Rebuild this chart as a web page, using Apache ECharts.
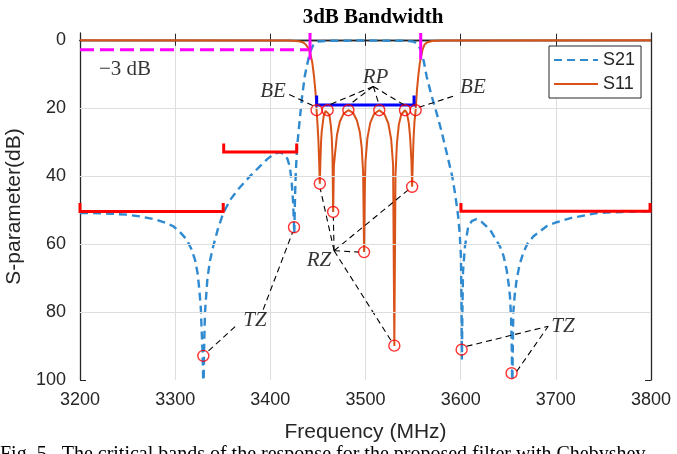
<!DOCTYPE html>
<html>
<head>
<meta charset="utf-8">
<script src="https://cdn.jsdelivr.net/npm/echarts@6/dist/echarts.min.js"></script>
<style>
    html, body { margin: 0; padding: 0; background: #fff; }
    #chart { width: 677px; height: 454px; }
</style>
</head>
<body>
<div id="chart"></div>
<script>
// measured S21 / S11 curves, [MHz, dB] (y axis is attenuation, drawn inverted)
var s21 = [
    [3200, 50.9], [3225, 51.0], [3249, 51.4], [3265, 52.0], [3280.6, 52.9], [3290, 53.8], [3298, 54.8],
    [3305, 56.5], [3312, 58.7], [3317, 61.5], [3320.8, 64.6], [3323.5, 68.5], [3325.4, 73.4], [3327, 79],
    [3327.8, 85.2], [3328.8, 92], [3329.8, 104], [3330.3, 92], [3331.3, 80.3], [3333.8, 70.5], [3336.5, 65],
    [3340, 60.7], [3345, 55.5], [3350.6, 50.9], [3358, 47], [3366, 44], [3378.6, 40.1], [3389, 37.2],
    [3397, 35], [3405, 33.4], [3410, 33.1], [3414, 33.5], [3418, 35], [3420.6, 37.5], [3422.5, 42],
    [3424, 48], [3425.2, 57], [3425.8, 48], [3426.6, 40], [3428, 32], [3430, 26], [3433, 17.6], [3436, 11],
    [3437.6, 8.7], [3439.5, 6.3], [3441, 4.5], [3443, 2.8], [3445, 1.6], [3447, 0.9], [3450, 0.5],
    [3460, 0.3], [3500, 0.2], [3540, 0.3], [3550, 0.5], [3553, 0.9], [3555.5, 1.6], [3558, 3], [3561, 6],
    [3564.2, 10.7], [3569, 16], [3574.7, 21.5], [3580, 27], [3587, 35.2], [3591, 40], [3594, 45],
    [3596, 49], [3597.4, 52], [3599, 57], [3600.3, 64], [3601, 80], [3601.3, 94], [3601.8, 80],
    [3602.5, 68], [3604.5, 60.7], [3608, 54.8], [3612, 53.2], [3616.7, 52.7], [3622, 53.5], [3630.8, 55.8],
    [3641.3, 60.7], [3645, 63.5], [3648.3, 67.6], [3650.5, 72], [3651.8, 75.4], [3653, 82], [3653.8, 92],
    [3654.2, 104], [3654.8, 90], [3655.3, 80.3], [3656.8, 75], [3658.8, 70.5], [3662, 66], [3665.8, 62.6],
    [3670, 60], [3676.3, 57.8], [3690.3, 54.8], [3700, 53.7], [3715.5, 52.4], [3743.6, 50.9], [3770, 50.6],
    [3800, 50.4]
];
var s11 = [
    [3200, 0.1], [3420, 0.2], [3430, 0.4], [3434, 0.7], [3437, 1.3], [3440, 2.5], [3442, 4], [3444, 6.5],
    [3446, 11], [3447.5, 15.5], [3448.6, 20.7], [3449.5, 24.5], [3450.5, 29.5], [3451.3, 36], [3452, 42.3],
    [3452.6, 36], [3453.3, 30], [3454, 26.9], [3456, 22.5], [3458, 20.9], [3460, 20.7], [3462, 22.0],
    [3463.5, 25], [3464.5, 28.5], [3465.3, 34], [3466, 50.6], [3466.8, 37], [3468, 33.5], [3470, 28],
    [3473, 24.1], [3477, 21.7], [3482, 20.7], [3487, 21.5], [3491, 23.7], [3494, 27.1], [3496, 31.6],
    [3497.5, 39], [3498.5, 62.4], [3499.4, 42], [3500, 35.7], [3502, 28.9], [3505, 24.4], [3509, 21.8],
    [3514.5, 20.7], [3520, 21.9], [3524, 24.6], [3527, 29.3], [3529, 36.8], [3530.3, 90], [3531.5, 40],
    [3533, 30.5], [3535, 25], [3537.5, 22], [3541.5, 20.7], [3543.5, 21.5], [3545.5, 24.5], [3547, 29],
    [3548.3, 36], [3549, 43.2], [3549.7, 36], [3550.5, 29], [3551.5, 24], [3552.7, 20.7], [3554, 15],
    [3555.5, 10.5], [3557, 7], [3558.5, 4.8], [3560, 2.8], [3562, 1.4], [3565, 0.7], [3570, 0.35],
    [3580, 0.2], [3800, 0.1]
];

// red circles: band edges / ripple peaks, reflection zeros, transmission zeros
var rpPoints = [[3448.6, 20.7], [3460.2, 20.7], [3482, 20.7], [3514.5, 20.7], [3541.5, 20.7], [3552.7, 20.7]];
var rzPoints = [[3452, 42.3], [3466, 50.6], [3498.5, 62.4], [3530.3, 89.9], [3549, 43.2]];
var tzPoints = [[3329.6, 92.9], [3424.9, 55.1], [3601, 91.1], [3653.5, 98]];

// stopband masks, passband line, 3 dB marks
var specMasks = [
    [[3200, 48], [3200, 50.5], [3350.5, 50.5], [3350.5, 48]],
    [[3351, 30.5], [3351, 33], [3427.7, 33], [3427.7, 30.5]],
    [[3600.3, 48], [3600.3, 50.4], [3799, 50.4], [3799, 48]]
];
var passLine = [[3448.7, 16.4], [3448.7, 19.2], [3551, 19.2], [3551, 16.4]];
var level3dB = [[3200, 2.9], [3439.5, 2.9]];
var edges3dB = [
    [[3441.7, -2], [3441.7, 5.8]],
    [[3558, -2], [3558, 5.8]]
];

// leader lines of the annotations
var leaders = [
    [[3419.8, 16.1], [3446.5, 19.6]],
    [[3592, 16.6], [3555.5, 19.9]],
    [[3508.2, 13.7], [3459.5, 19.4]],
    [[3508.2, 13.7], [3482, 19.3]],
    [[3508.2, 13.7], [3514.5, 19.3]],
    [[3508.2, 13.7], [3541.5, 19.3]],
    [[3467, 62], [3452.5, 43.8]],
    [[3467, 62], [3466.2, 52.1]],
    [[3467, 62], [3493.2, 62.4]],
    [[3467, 62], [3527.5, 88.7]],
    [[3467, 62], [3545, 44.1]],
    [[3363, 84.3], [3333.2, 91.9]],
    [[3392.5, 79.3], [3423.5, 56.5]],
    [[3606.2, 90.1], [3692, 84.2]],
    [[3658.8, 97.5], [3692, 84.2]]
];
var noteText = ['BE', 'BE', 'RP', 'RZ', 'TZ', 'TZ'];
var noteX = [3402.8, 3612.9, 3510.5, 3451.1, 3383.9, 3707.5];
var noteY = [15.2, 14.0, 11.1, 64.8, 82.6, 84.2];

var xRange = [3200, 3800];
var yRange = [-2, 100];
var yTickValues = [0, 20, 40, 60, 80, 100];
var yGridValues = [20, 40, 60, 80];

var axisColor = '#262626';
var gridColor = '#dedede';
var sans = 'Liberation Sans, Arial, sans-serif';
var serif = 'Liberation Serif, Times New Roman, serif';

function pathSeries(name, segs, color, width, dash) {
    return {
        name: name,
        type: 'lines',
        coordinateSystem: 'cartesian2d',
        polyline: true,
        silent: true,
        z: 4,
        lineStyle: { color: color, width: width, type: dash || 'solid', opacity: 1 },
        data: segs.map(function (s) { return { coords: s }; })
    };
}

function circleSeries(name, pts) {
    return {
        name: name,
        type: 'scatter',
        symbol: 'circle',
        symbolSize: 11,
        z: 6,
        itemStyle: { color: 'rgba(255,255,255,0)', borderColor: '#ff0000', borderWidth: 1.4 },
        data: pts
    };
}

var chart = echarts.init(document.getElementById('chart'));

var notes = noteText.map(function (t, i) { return [noteX[i], noteY[i], t]; });

var option = {
    animation: false,
    backgroundColor: '#fff',
    title: {
        text: '3dB Bandwidth',
        left: 368,
        top: 2,
        textAlign: 'center',
        textStyle: { fontFamily: serif, fontWeight: 'bold', fontSize: 21, color: '#000' }
    },
    legend: {
        data: ['S21', 'S11'],
        orient: 'vertical',
        left: 549,
        top: 46,
        padding: [5, 6, 5, 4],
        itemWidth: 44,
        itemHeight: 20,
        itemGap: 6,
        borderColor: axisColor,
        borderWidth: 1,
        backgroundColor: '#fff',
        itemStyle: { opacity: 0, borderWidth: 0 },
        textStyle: { fontFamily: sans, fontSize: 18, color: axisColor }
    },
    grid: { left: 80, right: 26, top: 33, bottom: 74, outerBoundsMode: 'none', containLabel: false },
    xAxis: [{
        type: 'value',
        min: xRange[0], max: xRange[1], interval: 100,
        name: 'Frequency (MHz)',
        nameLocation: 'middle',
        nameGap: 42,
        nameTextStyle: { fontFamily: sans, fontSize: 21, color: axisColor },
        axisLine: { lineStyle: { color: axisColor, width: 1.3 } },
        axisTick: { inside: true, length: 6, lineStyle: { color: axisColor } },
        axisLabel: {
            fontFamily: sans, fontSize: 18, color: axisColor, margin: 11,
            formatter: function (v) { return String(v); }
        },
        splitLine: { show: true, lineStyle: { color: gridColor, width: 1 } }
    }, {
        type: 'value', position: 'top',
        min: xRange[0], max: xRange[1], interval: 100,
        axisLine: { lineStyle: { color: axisColor, width: 1.3 } },
        axisTick: { inside: true, length: 6, lineStyle: { color: axisColor } },
        axisLabel: { show: false },
        splitLine: { show: false }
    }],
    yAxis: [{
        type: 'value',
        inverse: true,
        min: yRange[0], max: yRange[1],
        name: 'S-parameter(dB)',
        nameLocation: 'middle',
        nameGap: 48,
        nameTextStyle: { fontFamily: sans, fontSize: 21, color: axisColor },
        axisLine: { show: true, lineStyle: { color: axisColor, width: 1.3 } },
        axisTick: { show: true, inside: true, length: 6, customValues: yTickValues, lineStyle: { color: axisColor } },
        axisLabel: { fontFamily: sans, fontSize: 18, color: axisColor, margin: 14, customValues: yTickValues },
        splitLine: { show: false }
    }, {
        type: 'value', position: 'right',
        inverse: true,
        min: yRange[0], max: yRange[1],
        axisLine: { show: true, lineStyle: { color: axisColor, width: 1.3 } },
        axisTick: { show: true, inside: true, length: 6, customValues: yTickValues, lineStyle: { color: axisColor } },
        axisLabel: { show: false },
        splitLine: { show: false }
    }],
    graphic: [{
        type: 'text',
        left: 0,
        top: 445,
        style: {
            text: 'Fig. 5.  The critical bands of the response for the proposed filter with Chebyshev',
            fontFamily: serif, fontSize: 20, fill: '#000'
        }
    }],
    series: [
        {
            // horizontal grid lines at the labelled y ticks
            name: 'ygrid',
            type: 'line',
            data: [],
            z: 1,
            silent: true,
            markLine: {
                silent: true,
                symbol: 'none',
                label: { show: false },
                lineStyle: { color: gridColor, width: 1, type: 'solid' },
                data: yGridValues.map(function (v) { return { yAxis: v }; })
            }
        },
        {
            name: 'S21',
            type: 'line',
            data: s21,
            symbol: 'none',
            z: 2,
            lineStyle: { color: '#2f8ad0', width: 2.4, type: [8, 5] },
            itemStyle: { color: '#2f8ad0' }
        },
        {
            name: 'S11',
            type: 'line',
            data: s11,
            symbol: 'none',
            z: 3,
            lineStyle: { color: '#d95319', width: 2 },
            itemStyle: { color: '#d95319' }
        },
        pathSeries('mask', specMasks, '#ff0000', 3),
        pathSeries('pass', [passLine], '#0000ff', 3),
        pathSeries('level3', [level3dB], '#ff00ff', 3, [14, 6]),
        pathSeries('edge3', edges3dB, '#ff00ff', 3),
        pathSeries('leader', leaders, '#000', 1.1, [6, 4]),
        circleSeries('rp', rpPoints),
        circleSeries('rz', rzPoints),
        circleSeries('tz', tzPoints),
        {
            name: 'notes',
            type: 'scatter',
            symbolSize: 1,
            z: 7,
            silent: true,
            itemStyle: { color: 'rgba(0,0,0,0)' },
            label: {
                show: true,
                position: 'inside',
                formatter: function (p) { return p.value[2]; },
                fontFamily: serif, fontStyle: 'italic', fontSize: 21, color: '#000'
            },
            data: notes
        },
        {
            name: 'note3dB',
            type: 'scatter',
            symbolSize: 1,
            z: 7,
            silent: true,
            itemStyle: { color: 'rgba(0,0,0,0)' },
            label: {
                show: true,
                position: 'inside',
                formatter: function (p) { return p.value[2]; },
                fontFamily: serif, fontSize: 21, color: '#000'
            },
            data: [[3247.3, 8.7, '\u22123 dB']]
        }
    ]
};

chart.setOption(option);
</script>
</body>
</html>
